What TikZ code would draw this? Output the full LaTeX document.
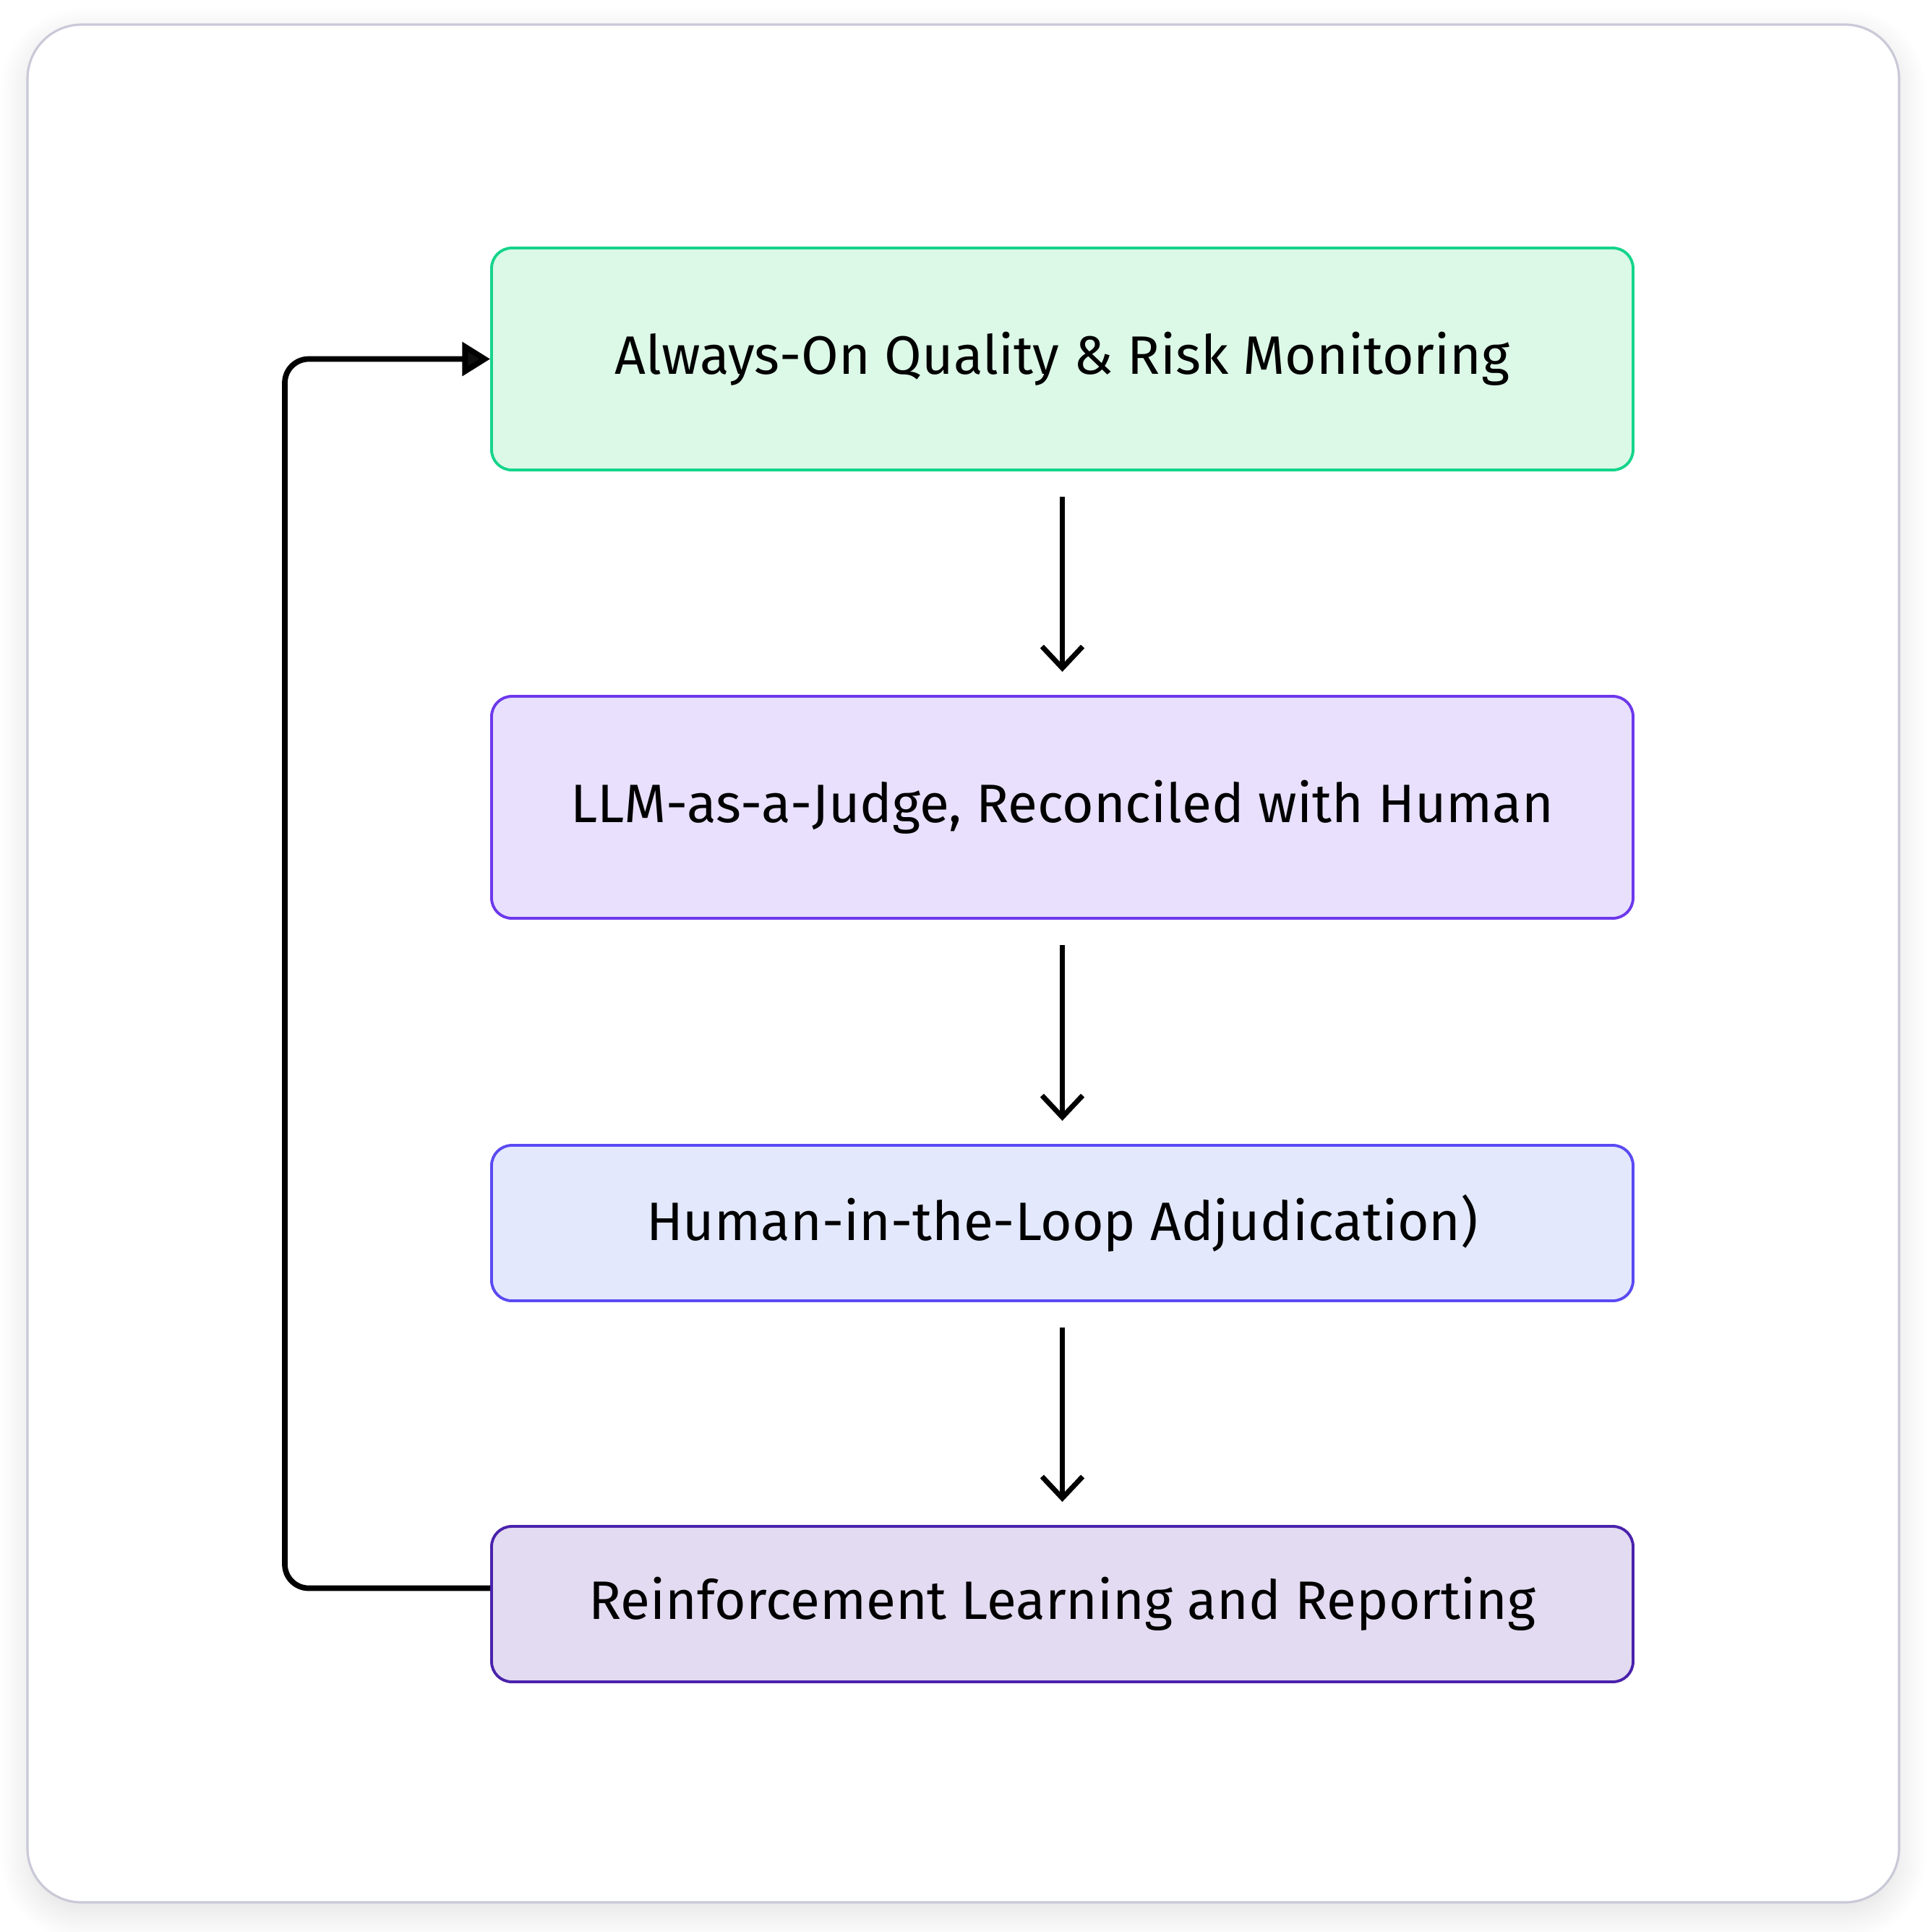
\documentclass[tikz,border=0pt]{standalone}
\usepackage{fontspec}
\setmainfont{Fira Sans}
\usepackage{tikz}
\usetikzlibrary{arrows.meta, positioning, shadows.blur}

\definecolor{framegray}{HTML}{C9C9D8}
\definecolor{monfill}{HTML}{DCF8E7}
\definecolor{mondraw}{HTML}{14D48B}
\definecolor{judgefill}{HTML}{E8E0FD}
\definecolor{judgedraw}{HTML}{6D38EC}
\definecolor{humanfill}{HTML}{E3E8FD}
\definecolor{humandraw}{HTML}{5A4AF2}
\definecolor{rlfill}{HTML}{E3DBF1}
\definecolor{rldraw}{HTML}{4A22AC}

\tikzset{
  stagebox/.style={draw, line width=1.1pt, rounded corners=0.28cm, minimum width=15.79cm,
    align=center, font=\fontsize{21.3}{26}\selectfont},
  flowarrow/.style={line width=2pt, -{Straight Barb[length=8.5pt, width=16pt, line width=2pt]},
    shorten <=0.35cm, shorten >=0.32cm},
  looparrow/.style={line width=2.2pt, rounded corners=0.33cm, -{Triangle[length=11pt, width=13pt]}}
}

\begin{document}
\begin{tikzpicture}
\useasboundingbox (0,0) rectangle (26.66,-26.72);

\draw[framegray, line width=0.9pt, fill=white, rounded corners=0.75cm,
  blur shadow={shadow xshift=0cm, shadow yshift=-0.15cm, shadow blur radius=0.4cm,
    shadow blur steps=16, shadow opacity=12}]
  (0.38,-0.34) rectangle (26.27,-26.31);

\node[stagebox, fill=monfill, draw=mondraw, minimum height=3.07cm] (monitor) at (14.695,-4.965)
  {Always-On Quality \& Risk Monitoring};
\node[stagebox, fill=judgefill, draw=judgedraw, minimum height=3.07cm] (judge) at (14.695,-11.165)
  {LLM-as-a-Judge, Reconciled with Human};
\node[stagebox, fill=humanfill, draw=humandraw, minimum height=2.15cm] (human) at (14.695,-16.915)
  {Human-in-the-Loop Adjudication)};
\node[stagebox, fill=rlfill, draw=rldraw, minimum height=2.15cm] (report) at (14.695,-22.185)
  {Reinforcement Learning and Reporting};

\draw[flowarrow] (monitor) -- (judge);
\draw[flowarrow] (judge) -- (human);
\draw[flowarrow] (human) -- (report);

\coordinate (loopbot) at ([yshift=0.22cm]report.west);
\coordinate (looptop) at (3.94,0 |- monitor.west);
\draw[looparrow] (loopbot) -| (looptop) -- (monitor.west);
\end{tikzpicture}
\end{document}
